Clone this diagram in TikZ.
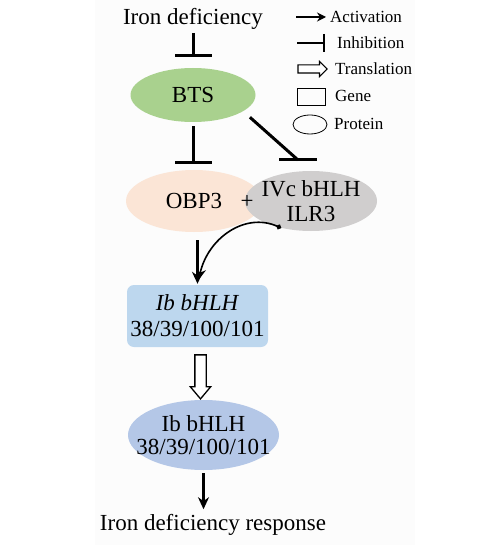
\documentclass[tikz,border=0pt]{standalone}
\usepackage{fontspec}
\setmainfont{Liberation Serif}
\usetikzlibrary{positioning, arrows.meta, shapes, calc}
\definecolor{btsgreen}{HTML}{A9D18E}
\definecolor{obppeach}{HTML}{FBE5D6}
\definecolor{ilrgray}{HTML}{D0CECE}
\definecolor{geneblue}{HTML}{BDD7EE}
\definecolor{protblue}{HTML}{B4C7E7}
\definecolor{panel}{HTML}{FCFCFC}
\tikzset{
  bigtext/.style={font=\fontsize{23}{25}\selectfont, inner sep=0pt},
  protein/.style={ellipse, inner sep=-20pt, align=center, font=\fontsize{23}{25}\selectfont},
  gene/.style={rectangle, rounded corners=7pt, inner sep=0pt, align=center, font=\fontsize{23}{26}\selectfont},
  act/.style={line width=2.6pt, -{Stealth[length=12pt, width=11pt]}},
  inh/.style={line width=3pt, -{Bar[width=37pt]}},
  transl/.style={single arrow, draw, line width=1.3pt, fill=white, rotate=-90, inner xsep=0pt},
  legtext/.style={font=\fontsize{17}{19}\selectfont, anchor=west, inner sep=0pt},
}
\begin{document}
\begin{tikzpicture}[x=1pt, y=-1pt]
  \useasboundingbox (0,0) rectangle (500,545);
  \fill[panel] (95,0) rectangle (415,545);

  \node[bigtext] (iron) at (193,19) {Iron deficiency};
  \node[protein, fill=btsgreen, minimum width=125pt, minimum height=54pt] (bts) at (193,95) {BTS};
  \node[protein, fill=obppeach, minimum width=136pt, minimum height=62pt] (obp) at (194,201) {OBP3};
  \node[protein, fill=ilrgray, minimum width=132pt, minimum height=60pt] (ilr) at (311,201) {IVc bHLH\\ILR3};
  \node[bigtext] (plus) at (247,202) {+};
  \node[gene, fill=geneblue, minimum width=141pt, minimum height=62pt] (gen) at (197.5,316) {\textit{Ib bHLH}\\38/39/100/101};
  \node[protein, fill=protblue, minimum width=151pt, minimum height=70pt, font=\fontsize{23}{23}\selectfont] (prot) at (203.5,435) {Ib bHLH\\38/39/100/101};
  \node[bigtext] (resp) at (213,525) {Iron deficiency response};

  \draw[inh, shorten <=3pt, shorten >=11pt] (iron) -- (bts);
  \draw[inh, shorten <=4pt, shorten >=6pt] (bts.south) -- (bts.south |- obp.north);
  \coordinate (ilrbar) at (298,160);
  \draw[line width=3pt, shorten <=9pt] (bts.-18) -- (ilrbar);
  \draw[line width=3pt] (ilrbar) ++(-19,0) -- ++(38,0);
  \draw[act, shorten <=8pt, shorten >=1pt] (gen.north |- obp.south) -- (gen.north);
  \draw[line width=1.6pt, {Circle[length=5pt]}-{Stealth[length=11pt, width=10pt]}, shorten >=5pt]
    (ilr.222) .. controls (245,212) and (208,238) .. (gen.north);
  \node[transl, minimum height=44pt, inner ysep=5pt, single arrow head extend=4.5pt, single arrow tip angle=80] (tr) at ($(gen.south)!0.5!(prot.north)$) {};
  \draw[act, shorten <=3pt, shorten >=5pt] (prot.south) -- (prot.south |- resp.north);

  \coordinate (la) at (296,17);
  \draw[line width=2.2pt, -{Stealth[length=9pt, width=9pt]}] (la) -- ++(30,0) coordinate (lb);
  \node[legtext, right=4pt of lb] (lact) {Activation};
  \coordinate (li) at (297,43);
  \draw[line width=2.2pt, -{Bar[width=18pt]}] (li) -- ++(28,0) coordinate (lj);
  \node[legtext, right=12pt of lj] (linh) {Inhibition};
  \node[transl, rotate=90, minimum height=29pt, inner ysep=3.5pt, single arrow head extend=3.5pt, line width=1.1pt] (ltr) at (310.5,69) {};
  \node[legtext] (ltrans) at (335,69) {Translation};
  \node[draw, line width=0.8pt, minimum width=28pt, minimum height=17pt, inner sep=0pt] (lgene) at (311,96.5) {};
  \node[legtext] (lgen) at (335,96) {Gene};
  \node[ellipse, draw, line width=0.8pt, minimum width=34pt, minimum height=19pt, inner sep=0pt] (lprot) at (310,124.5) {};
  \node[legtext] (lpro) at (334,124) {Protein};
\end{tikzpicture}
\end{document}
